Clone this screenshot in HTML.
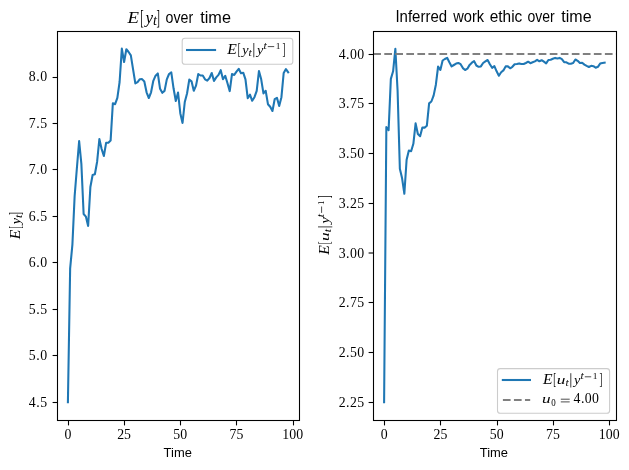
<!DOCTYPE html>
<html><head><meta charset="utf-8"><title>plot</title>
<style>html,body{margin:0;padding:0;background:#fff;}body{width:629px;height:470px;overflow:hidden;}svg{display:block;}text{fill:#000;}.sr{font-family:"Liberation Serif",serif;}.si{font-family:"Liberation Serif",serif;font-style:italic;}.ss{font-family:"Liberation Sans",sans-serif;}</style></head><body>
<svg width="629" height="470" viewBox="0 0 629 470">
<rect x="0" y="0" width="629" height="470" fill="#fff"/>
<g opacity="0.999">
<clipPath id="c1"><rect x="57.5" y="31.5" width="242.00" height="389.00"/></clipPath>
<polyline clip-path="url(#c1)" points="67.90,402.30 70.15,268.30 72.40,244.70 74.64,196.00 76.89,168.00 79.14,141.00 81.39,164.20 83.63,214.00 85.88,216.60 88.13,226.00 90.38,187.00 92.62,175.00 94.87,174.20 97.12,161.70 99.37,139.00 101.62,149.00 103.86,156.00 106.11,142.80 108.36,142.80 110.61,140.60 112.85,103.20 115.10,104.20 117.35,97.90 119.60,82.00 121.84,48.60 124.09,62.00 126.34,49.20 128.59,52.00 130.84,55.30 133.08,69.30 135.33,83.40 137.58,82.10 139.83,79.20 142.07,79.10 144.32,81.50 146.57,92.30 148.82,98.00 151.06,92.30 153.31,80.80 155.56,75.70 157.81,73.40 160.06,88.80 162.30,92.80 164.55,90.90 166.80,79.40 169.05,74.00 171.29,72.30 173.54,88.30 175.79,101.00 178.04,92.50 180.29,113.20 182.53,123.00 184.78,102.00 187.03,93.50 189.28,79.60 191.52,81.30 193.77,90.80 196.02,85.60 198.27,74.00 200.51,75.50 202.76,75.50 205.01,79.30 207.26,80.60 209.51,78.00 211.75,73.00 214.00,80.90 216.25,77.40 218.50,74.90 220.74,70.20 222.99,79.30 225.24,75.80 227.49,83.30 229.73,91.10 231.98,74.10 234.23,74.90 236.48,71.70 238.73,68.80 240.97,73.20 243.22,72.70 245.47,79.30 247.72,98.20 249.96,94.70 252.21,100.80 254.46,97.20 256.71,90.80 258.95,71.00 261.20,79.30 263.45,93.40 265.70,90.80 267.95,104.20 270.19,106.80 272.44,111.00 274.69,99.10 276.94,97.80 279.18,105.90 281.43,97.20 283.68,73.00 285.93,69.10 288.17,72.30" fill="none" stroke="#1f77b4" stroke-width="2.08" stroke-linejoin="round" stroke-linecap="square"/>
<rect x="57.5" y="31.5" width="242.00" height="389.00" fill="none" stroke="#000" stroke-width="1.1"/>
<line x1="68.50" y1="420.5" x2="68.50" y2="425.4" stroke="#000" stroke-width="1.1"/>
<text class="sr" x="67.90" y="439.1" font-size="13.8" text-anchor="middle" textLength="6.94" lengthAdjust="spacing">0</text>
<line x1="124.50" y1="420.5" x2="124.50" y2="425.4" stroke="#000" stroke-width="1.1"/>
<text class="sr" x="124.09" y="439.1" font-size="13.8" text-anchor="middle" textLength="13.88" lengthAdjust="spacing">25</text>
<line x1="180.50" y1="420.5" x2="180.50" y2="425.4" stroke="#000" stroke-width="1.1"/>
<text class="sr" x="180.29" y="439.1" font-size="13.8" text-anchor="middle" textLength="13.88" lengthAdjust="spacing">50</text>
<line x1="236.50" y1="420.5" x2="236.50" y2="425.4" stroke="#000" stroke-width="1.1"/>
<text class="sr" x="236.48" y="439.1" font-size="13.8" text-anchor="middle" textLength="13.88" lengthAdjust="spacing">75</text>
<line x1="293.50" y1="420.5" x2="293.50" y2="425.4" stroke="#000" stroke-width="1.1"/>
<text class="sr" x="292.67" y="439.1" font-size="13.8" text-anchor="middle" textLength="20.82" lengthAdjust="spacing">100</text>
<line x1="52.6" y1="402.50" x2="57.5" y2="402.50" stroke="#000" stroke-width="1.1"/>
<text class="sr" x="47.20" y="407.00" font-size="13.8" text-anchor="end" textLength="18.54" lengthAdjust="spacing">4.5</text>
<line x1="52.6" y1="355.50" x2="57.5" y2="355.50" stroke="#000" stroke-width="1.1"/>
<text class="sr" x="47.20" y="360.00" font-size="13.8" text-anchor="end" textLength="18.54" lengthAdjust="spacing">5.0</text>
<line x1="52.6" y1="309.50" x2="57.5" y2="309.50" stroke="#000" stroke-width="1.1"/>
<text class="sr" x="47.20" y="314.00" font-size="13.8" text-anchor="end" textLength="18.54" lengthAdjust="spacing">5.5</text>
<line x1="52.6" y1="262.50" x2="57.5" y2="262.50" stroke="#000" stroke-width="1.1"/>
<text class="sr" x="47.20" y="267.00" font-size="13.8" text-anchor="end" textLength="18.54" lengthAdjust="spacing">6.0</text>
<line x1="52.6" y1="216.50" x2="57.5" y2="216.50" stroke="#000" stroke-width="1.1"/>
<text class="sr" x="47.20" y="221.00" font-size="13.8" text-anchor="end" textLength="18.54" lengthAdjust="spacing">6.5</text>
<line x1="52.6" y1="169.50" x2="57.5" y2="169.50" stroke="#000" stroke-width="1.1"/>
<text class="sr" x="47.20" y="174.00" font-size="13.8" text-anchor="end" textLength="18.54" lengthAdjust="spacing">7.0</text>
<line x1="52.6" y1="123.50" x2="57.5" y2="123.50" stroke="#000" stroke-width="1.1"/>
<text class="sr" x="47.20" y="128.00" font-size="13.8" text-anchor="end" textLength="18.54" lengthAdjust="spacing">7.5</text>
<line x1="52.6" y1="77.50" x2="57.5" y2="77.50" stroke="#000" stroke-width="1.1"/>
<text class="sr" x="47.20" y="81.00" font-size="13.8" text-anchor="end" textLength="18.54" lengthAdjust="spacing">8.0</text>
<clipPath id="c2"><rect x="373.5" y="31.5" width="243.00" height="389.00"/></clipPath>
<polyline clip-path="url(#c2)" points="384.10,402.30 386.35,127.00 388.60,130.20 390.85,78.90 393.10,71.30 395.35,48.80 397.60,91.00 399.85,168.70 402.10,178.30 404.35,193.80 406.61,159.80 408.86,150.50 411.11,151.20 413.36,143.80 415.61,123.40 417.86,134.00 420.11,136.20 422.36,127.60 424.61,127.60 426.86,125.70 429.11,103.40 431.36,101.50 433.61,95.60 435.86,84.70 438.11,66.50 440.36,70.00 442.61,60.50 444.86,59.00 447.11,57.80 449.36,62.30 451.62,66.40 453.87,65.00 456.12,63.60 458.37,63.00 460.62,64.20 462.87,68.10 465.12,70.00 467.37,68.70 469.62,64.90 471.87,62.70 474.12,61.10 476.37,65.50 478.62,66.80 480.87,66.40 483.12,63.00 485.37,61.40 487.62,60.00 489.87,64.20 492.12,67.80 494.37,66.20 496.62,71.30 498.88,75.70 501.13,72.20 503.38,70.40 505.63,66.40 507.88,66.40 510.13,68.30 512.38,66.80 514.63,64.20 516.88,64.00 519.13,63.40 521.38,64.00 523.63,64.00 525.88,63.00 528.13,61.70 530.38,63.20 532.63,62.30 534.88,61.40 537.13,59.80 539.38,61.30 541.63,60.20 543.89,61.70 546.14,63.30 548.39,60.00 550.64,59.80 552.89,58.80 555.14,57.90 557.39,58.50 559.64,57.90 561.89,59.10 564.14,62.10 566.39,62.30 568.64,63.70 570.89,63.70 573.14,63.00 575.39,59.50 577.64,60.80 579.89,63.00 582.14,62.70 584.39,64.60 586.64,65.90 588.90,67.00 591.15,65.80 593.40,66.20 595.65,67.70 597.90,66.80 600.15,63.60 602.40,63.00 604.65,62.70" fill="none" stroke="#1f77b4" stroke-width="2.08" stroke-linejoin="round" stroke-linecap="square"/>
<line clip-path="url(#c2)" x1="373.25" y1="54.0" x2="616.5" y2="54.0" stroke="#808080" stroke-width="2.08" stroke-dasharray="7.7 3.33"/>
<rect x="373.5" y="31.5" width="243.00" height="389.00" fill="none" stroke="#000" stroke-width="1.1"/>
<line x1="384.50" y1="420.5" x2="384.50" y2="425.4" stroke="#000" stroke-width="1.1"/>
<text class="sr" x="384.10" y="439.1" font-size="13.8" text-anchor="middle" textLength="6.94" lengthAdjust="spacing">0</text>
<line x1="440.50" y1="420.5" x2="440.50" y2="425.4" stroke="#000" stroke-width="1.1"/>
<text class="sr" x="440.36" y="439.1" font-size="13.8" text-anchor="middle" textLength="13.88" lengthAdjust="spacing">25</text>
<line x1="497.50" y1="420.5" x2="497.50" y2="425.4" stroke="#000" stroke-width="1.1"/>
<text class="sr" x="496.62" y="439.1" font-size="13.8" text-anchor="middle" textLength="13.88" lengthAdjust="spacing">50</text>
<line x1="553.50" y1="420.5" x2="553.50" y2="425.4" stroke="#000" stroke-width="1.1"/>
<text class="sr" x="552.89" y="439.1" font-size="13.8" text-anchor="middle" textLength="13.88" lengthAdjust="spacing">75</text>
<line x1="609.50" y1="420.5" x2="609.50" y2="425.4" stroke="#000" stroke-width="1.1"/>
<text class="sr" x="609.15" y="439.1" font-size="13.8" text-anchor="middle" textLength="20.82" lengthAdjust="spacing">100</text>
<line x1="368.6" y1="402.50" x2="373.5" y2="402.50" stroke="#000" stroke-width="1.1"/>
<text class="sr" x="364.20" y="407.00" font-size="13.8" text-anchor="end" textLength="25.48" lengthAdjust="spacing">2.25</text>
<line x1="368.6" y1="352.50" x2="373.5" y2="352.50" stroke="#000" stroke-width="1.1"/>
<text class="sr" x="364.20" y="357.00" font-size="13.8" text-anchor="end" textLength="25.48" lengthAdjust="spacing">2.50</text>
<line x1="368.6" y1="302.50" x2="373.5" y2="302.50" stroke="#000" stroke-width="1.1"/>
<text class="sr" x="364.20" y="307.00" font-size="13.8" text-anchor="end" textLength="25.48" lengthAdjust="spacing">2.75</text>
<line x1="368.6" y1="253.00" x2="373.5" y2="253.00" stroke="#000" stroke-width="1.1"/>
<text class="sr" x="364.20" y="257.50" font-size="13.8" text-anchor="end" textLength="25.48" lengthAdjust="spacing">3.00</text>
<line x1="368.6" y1="203.50" x2="373.5" y2="203.50" stroke="#000" stroke-width="1.1"/>
<text class="sr" x="364.20" y="208.00" font-size="13.8" text-anchor="end" textLength="25.48" lengthAdjust="spacing">3.25</text>
<line x1="368.6" y1="153.50" x2="373.5" y2="153.50" stroke="#000" stroke-width="1.1"/>
<text class="sr" x="364.20" y="158.00" font-size="13.8" text-anchor="end" textLength="25.48" lengthAdjust="spacing">3.50</text>
<line x1="368.6" y1="103.50" x2="373.5" y2="103.50" stroke="#000" stroke-width="1.1"/>
<text class="sr" x="364.20" y="108.00" font-size="13.8" text-anchor="end" textLength="25.48" lengthAdjust="spacing">3.75</text>
<line x1="368.6" y1="54.50" x2="373.5" y2="54.50" stroke="#000" stroke-width="1.1"/>
<text class="sr" x="364.20" y="59.00" font-size="13.8" text-anchor="end" textLength="25.48" lengthAdjust="spacing">4.00</text>
<g transform="translate(127.4 22.6)"><text class="si" transform="translate(0.22 0.00) scale(1.080 1)" font-size="17.41" fill="#000">E</text><text class="sr" transform="translate(12.80 1.75) scale(0.487 1)" font-size="21.02" fill="#000">[</text><text class="si" transform="translate(18.22 -0.02) scale(1.090 1)" font-size="15.65" fill="#000">y</text><text class="si" transform="translate(25.66 2.63) scale(1.041 1)" font-size="13.62" fill="#000">t</text><text class="sr" transform="translate(29.15 1.75) scale(0.487 1)" font-size="21.02" fill="#000">]</text></g>
<text class="ss" x="165.60" y="23.00" font-size="15.6" textLength="27.63" lengthAdjust="spacingAndGlyphs" fill="#000">over</text>
<text class="ss" x="200.25" y="23.00" font-size="15.6" textLength="30.67" lengthAdjust="spacingAndGlyphs" fill="#000">time</text>
<text class="ss" x="395.42" y="22.00" font-size="15.6" textLength="51.65" lengthAdjust="spacingAndGlyphs" fill="#000">Inferred</text>
<text class="ss" x="453.22" y="22.00" font-size="15.6" textLength="30.96" lengthAdjust="spacingAndGlyphs" fill="#000">work</text>
<text class="ss" x="489.75" y="22.00" font-size="15.6" textLength="32.56" lengthAdjust="spacingAndGlyphs" fill="#000">ethic</text>
<text class="ss" x="527.41" y="22.00" font-size="15.6" textLength="27.22" lengthAdjust="spacingAndGlyphs" fill="#000">over</text>
<text class="ss" x="561.36" y="22.00" font-size="15.6" textLength="30.25" lengthAdjust="spacingAndGlyphs" fill="#000">time</text>
<text class="ss" x="163.61" y="457.00" font-size="13.3" textLength="28.25" lengthAdjust="spacingAndGlyphs" fill="#000">Time</text>
<text class="ss" x="479.81" y="457.00" font-size="13.3" textLength="28.25" lengthAdjust="spacingAndGlyphs" fill="#000">Time</text>
<g transform="translate(19.9 239.4) rotate(-90)"><text class="si" transform="translate(0.18 0.00) scale(1.080 1)" font-size="14.51" fill="#000">E</text><text class="sr" transform="translate(10.67 1.46) scale(0.487 1)" font-size="17.52" fill="#000">[</text><text class="si" transform="translate(15.19 -0.01) scale(1.090 1)" font-size="13.04" fill="#000">y</text><text class="si" transform="translate(21.38 2.19) scale(1.041 1)" font-size="11.35" fill="#000">t</text><text class="sr" transform="translate(24.29 1.46) scale(0.487 1)" font-size="17.52" fill="#000">]</text></g>
<g transform="translate(328.6 255.0) rotate(-90)"><text class="si" transform="translate(0.18 0.00) scale(1.080 1)" font-size="14.51" fill="#000">E</text><text class="sr" transform="translate(10.67 1.46) scale(0.487 1)" font-size="17.52" fill="#000">[</text><text class="si" transform="translate(14.09 -0.00) scale(1.320 1)" font-size="13.07" fill="#333">u</text><text class="si" transform="translate(22.68 2.19) scale(1.041 1)" font-size="11.35" fill="#000">t</text><line x1="28.10" y1="-10.60" x2="28.10" y2="3.70" stroke="#000" stroke-width="0.75"/><text class="si" transform="translate(31.40 -0.01) scale(1.104 1)" font-size="13.04" fill="#000">y</text><text class="si" transform="translate(37.78 -4.91) scale(1.041 1)" font-size="11.35" fill="#000">t</text><line x1="42.10" y1="-7.00" x2="48.50" y2="-7.00" stroke="#000" stroke-width="0.7"/><text class="sr" transform="translate(50.08 -5.00) scale(1.014 1)" font-size="9.24" fill="#000">1</text><text class="sr" transform="translate(56.69 1.46) scale(0.487 1)" font-size="17.52" fill="#000">]</text></g>
<rect x="182.2" y="38.2" width="110.6" height="26.1" rx="2.8" fill="#fff" fill-opacity="0.8" stroke="#ccc" stroke-width="1.1"/>
<line x1="186.0" y1="50" x2="216.1" y2="50" stroke="#1f77b4" stroke-width="2.08"/>
<g transform="translate(227.0 53.6)"><text class="si" transform="translate(0.18 0.00) scale(1.080 1)" font-size="14.51" fill="#000">E</text><text class="sr" transform="translate(10.67 1.46) scale(0.487 1)" font-size="17.52" fill="#000">[</text><text class="si" transform="translate(15.19 -0.01) scale(1.090 1)" font-size="13.04" fill="#000">y</text><text class="si" transform="translate(21.38 2.19) scale(1.041 1)" font-size="11.35" fill="#000">t</text><line x1="26.80" y1="-10.60" x2="26.80" y2="3.70" stroke="#000" stroke-width="0.75"/><text class="si" transform="translate(30.10 -0.01) scale(1.104 1)" font-size="13.04" fill="#000">y</text><text class="si" transform="translate(36.48 -4.91) scale(1.041 1)" font-size="11.35" fill="#000">t</text><line x1="40.80" y1="-7.00" x2="47.20" y2="-7.00" stroke="#000" stroke-width="0.7"/><text class="sr" transform="translate(48.78 -5.00) scale(1.014 1)" font-size="9.24" fill="#000">1</text><text class="sr" transform="translate(55.39 1.46) scale(0.487 1)" font-size="17.52" fill="#000">]</text></g>
<rect x="497.5" y="368.6" width="112.1" height="44.6" rx="2.8" fill="#fff" fill-opacity="0.8" stroke="#ccc" stroke-width="1.1"/>
<line x1="501.8" y1="380" x2="531.0" y2="380" stroke="#1f77b4" stroke-width="2.08"/>
<line x1="502.9" y1="400" x2="530.2" y2="400" stroke="#808080" stroke-width="2.08" stroke-dasharray="7.7 3.33"/>
<g transform="translate(542.7 383.8)"><text class="si" transform="translate(0.18 0.00) scale(1.080 1)" font-size="14.51" fill="#000">E</text><text class="sr" transform="translate(10.67 1.46) scale(0.487 1)" font-size="17.52" fill="#000">[</text><text class="si" transform="translate(14.09 -0.00) scale(1.320 1)" font-size="13.07" fill="#333">u</text><text class="si" transform="translate(22.68 2.19) scale(1.041 1)" font-size="11.35" fill="#000">t</text><line x1="28.10" y1="-10.60" x2="28.10" y2="3.70" stroke="#000" stroke-width="0.75"/><text class="si" transform="translate(31.40 -0.01) scale(1.104 1)" font-size="13.04" fill="#000">y</text><text class="si" transform="translate(37.78 -4.91) scale(1.041 1)" font-size="11.35" fill="#000">t</text><line x1="42.10" y1="-7.00" x2="48.50" y2="-7.00" stroke="#000" stroke-width="0.7"/><text class="sr" transform="translate(50.08 -5.00) scale(1.014 1)" font-size="9.24" fill="#000">1</text><text class="sr" transform="translate(56.69 1.46) scale(0.487 1)" font-size="17.52" fill="#000">]</text></g>
<text class="si" transform="translate(542.12 403.30) scale(1.320 1)" font-size="13.07" fill="#333">u</text><text class="sr" transform="translate(551.16 405.51) scale(0.945 1)" font-size="9.48" fill="#000">0</text><line x1="560.80" y1="399.20" x2="569.70" y2="399.20" stroke="#000" stroke-width="0.7"/><line x1="560.80" y1="401.90" x2="569.70" y2="401.90" stroke="#000" stroke-width="0.7"/><text class="sr" x="573.6" y="403.3" font-size="13.8" textLength="25.4" lengthAdjust="spacing">4.00</text>
</g></svg></body></html>
